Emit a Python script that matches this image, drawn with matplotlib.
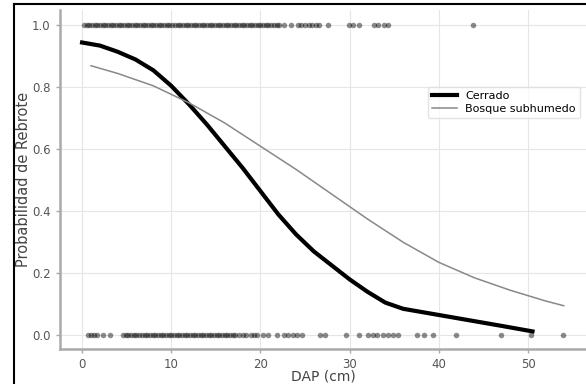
import matplotlib
matplotlib.use("Agg")
import matplotlib.pyplot as plt
from matplotlib.lines import Line2D

rebrote_si = [0.2, 0.5, 0.8, 1.1, 1.4, 1.7, 2.0, 2.3, 2.6, 2.9, 3.2, 3.5, 3.8, 4.1, 4.4,
              4.7, 5.0, 5.3, 5.6, 5.9, 6.2, 6.5, 6.8, 7.1, 7.4, 7.7, 8.0, 8.3, 8.6, 8.9,
              9.2, 9.5, 9.8, 10.1, 10.4, 10.7, 11.0, 11.3, 11.6, 11.9, 12.2, 12.5, 12.8,
              13.1, 13.4, 13.7, 14.0, 14.3, 14.6, 14.9, 15.2, 15.5, 15.8, 16.1, 16.4,
              16.7, 17.0, 17.3, 17.6, 17.9, 18.2, 18.5, 18.8, 19.1, 19.4, 19.7, 20.0,
              20.3, 20.6, 20.9, 21.2, 21.5, 21.8, 22.1, 22.6, 23.4, 24.2, 24.6, 25.0,
              25.4, 25.8, 26.2, 26.6, 27.6, 29.9, 30.4, 31.0, 32.7, 33.2, 33.8, 34.3, 43.8]
rebrote_no = [0.7, 1.0, 1.3, 1.7, 2.4, 3.1, 4.6, 4.9, 5.2, 5.5, 5.8, 6.1, 6.4, 6.7, 7.0,
              7.3, 7.6, 7.9, 8.2, 8.5, 8.8, 9.1, 9.4, 9.7, 10.0, 10.3, 10.6, 10.9, 11.2,
              11.5, 11.8, 12.1, 12.4, 12.7, 13.0, 13.3, 13.6, 13.9, 14.2, 14.5, 14.8,
              15.1, 15.4, 15.7, 16.0, 16.3, 16.6, 16.9, 17.2, 17.6, 18.0, 18.4, 18.9,
              19.3, 19.6, 20.3, 20.8, 21.9, 22.6, 23.1, 23.6, 24.1, 24.7, 26.7, 27.2,
              29.6, 31.0, 32.1, 32.6, 33.1, 33.7, 34.3, 34.9, 35.4, 37.6, 38.3, 39.4,
              41.9, 47.0, 50.3, 53.9]

# fitted curves
cerrado_x = [0, 2, 4, 6, 8, 10, 12, 14, 16, 18, 20, 22, 24, 26, 28, 30, 32, 34, 36, 38,
             41, 44, 47, 50.5]
cerrado_y = [0.945, 0.935, 0.915, 0.89, 0.855, 0.805, 0.745, 0.68, 0.61, 0.54, 0.465,
             0.39, 0.325, 0.27, 0.225, 0.18, 0.14, 0.105, 0.085, 0.075, 0.06, 0.045,
             0.03, 0.012]
bosque_x = [1, 4, 8, 12, 16, 20, 24, 28, 32, 36, 40, 44, 48, 52, 54]
bosque_y = [0.87, 0.845, 0.805, 0.75, 0.685, 0.61, 0.535, 0.455, 0.375, 0.30, 0.235,
            0.185, 0.145, 0.11, 0.095]

plt.rcParams['font.family'] = ['DejaVu Sans']
fig = plt.figure(figsize=(5.86, 3.84), dpi=100, facecolor="white")
ax = fig.add_axes([0.102, 0.091, 0.898, 0.883])

ax.plot(rebrote_si, [1.0] * len(rebrote_si), "o", color="black", ms=4, mew=0, alpha=0.45)
ax.plot(rebrote_no, [0.0] * len(rebrote_no), "o", color="black", ms=4, mew=0, alpha=0.45)
ax.plot(cerrado_x, cerrado_y, color="black", lw=3, label="Cerrado")
ax.plot(bosque_x, bosque_y, color="#888888", lw=1.1, label="Bosque subhumedo")

ax.set_xlim(-2.5, 56.5)
ax.set_ylim(-0.045, 1.05)
ax.set_xticks([0, 10, 20, 30, 40, 50])
ax.set_yticks([0.0, 0.2, 0.4, 0.6, 0.8, 1.0])
ax.grid(True, color="#e6e6e6", lw=0.8)
ax.set_axisbelow(True)
for s in ["top", "right"]:
    ax.spines[s].set_visible(False)
for s in ["left", "bottom"]:
    ax.spines[s].set_color("#aaaaaa")
    ax.spines[s].set_linewidth(1.8)
ax.tick_params(colors="#aaaaaa", labelcolor="#555555", labelsize=8.5, length=3, width=1)
ax.set_xlabel("DAP (cm)", fontsize=10, color="#444444", labelpad=-1)
ax.set_ylabel("Probabilidad de Rebrote", fontsize=10.5, color="#444444")
ax.yaxis.set_label_coords(-0.055, 0.5)

leg = ax.legend(loc="upper right", bbox_to_anchor=(1.0, 0.79), fontsize=8, frameon=True,
                handlelength=2.2, borderpad=0.4, labelspacing=0.25)
leg.get_frame().set_edgecolor("#dddddd")

# black border on the left and top of the picture
fig.add_artist(Line2D([14 / 586, 14 / 586], [0, 1 - 4 / 384], color="black", lw=1.5,
                      transform=fig.transFigure))
fig.add_artist(Line2D([14 / 586, 1], [1 - 4 / 384, 1 - 4 / 384], color="black", lw=1.5,
                      transform=fig.transFigure))

fig.savefig("out.png", dpi=100)
